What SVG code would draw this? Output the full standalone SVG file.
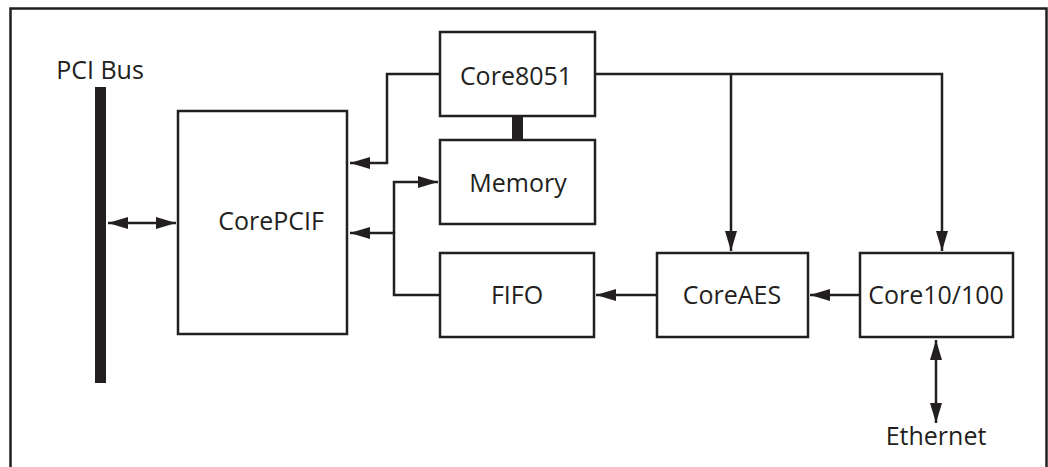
<svg xmlns="http://www.w3.org/2000/svg" width="1048" height="467" viewBox="0 0 1048 467">
<style>
.box{fill:#fff;stroke:#231f20;stroke-width:2.5}
.ln{fill:none;stroke:#231f20;stroke-width:2.5}
.t{font-family:"Open Sans","Liberation Sans",Arial,sans-serif;font-size:25px;fill:#231f20;text-anchor:middle}
</style>
<defs>
<marker id="ah" markerWidth="20" markerHeight="12" refX="20" refY="6" orient="auto-start-reverse" markerUnits="userSpaceOnUse">
<path d="M0,0 L20,6 L0,12 Z" fill="#231f20"/>
</marker>
</defs>
<rect x="0" y="0" width="1048" height="467" fill="#fff"/>
<path d="M10.5,475 V8.5 H1046.5 V475" class="ln" stroke-width="2"/>
<g id="pcibus">
<rect x="95" y="87" width="11" height="296" fill="#231f20"/>
<text x="100" y="79" class="t">PCI Bus</text>
</g>
<g id="corepcif">
<rect x="178" y="111" width="169" height="223" class="box"/>
<text x="271" y="230" class="t">CorePCIF</text>
</g>
<g id="core8051">
<rect x="440" y="32" width="155" height="84" class="box"/>
<text x="516" y="85" class="t">Core8051</text>
</g>
<g id="memory">
<rect x="440" y="140" width="155" height="84" class="box"/>
<text x="518" y="192" class="t">Memory</text>
</g>
<g id="fifo">
<rect x="440" y="253" width="154" height="84" class="box"/>
<text x="517" y="304" class="t">FIFO</text>
</g>
<g id="coreaes">
<rect x="657" y="253" width="151" height="84" class="box"/>
<text x="732" y="304" class="t">CoreAES</text>
</g>
<g id="core10100">
<rect x="860" y="253" width="153" height="84" class="box"/>
<text x="936" y="304" class="t">Core10/100</text>
</g>
<g id="ethernet">
<text x="936" y="445" class="t">Ethernet</text>
</g>
<g id="connectors">
<rect x="512" y="116" width="11" height="24" fill="#231f20"/>
<line x1="108" y1="223" x2="176" y2="223" class="ln" marker-start="url(#ah)" marker-end="url(#ah)"/>
<path d="M440,74 H387 V163 H350" class="ln" marker-end="url(#ah)"/>
<path d="M440,295 H394 V233 H350" class="ln" marker-end="url(#ah)"/>
<path d="M394,233 V182 H438" class="ln" marker-end="url(#ah)"/>
<path d="M595,74 H942 V251" class="ln" marker-end="url(#ah)"/>
<path d="M731,74 V251" class="ln" marker-end="url(#ah)"/>
<line x1="657" y1="295" x2="596" y2="295" class="ln" marker-end="url(#ah)"/>
<line x1="860" y1="295" x2="810" y2="295" class="ln" marker-end="url(#ah)"/>
<line x1="936" y1="340" x2="936" y2="423" class="ln" marker-start="url(#ah)" marker-end="url(#ah)"/>
</g>
</svg>
